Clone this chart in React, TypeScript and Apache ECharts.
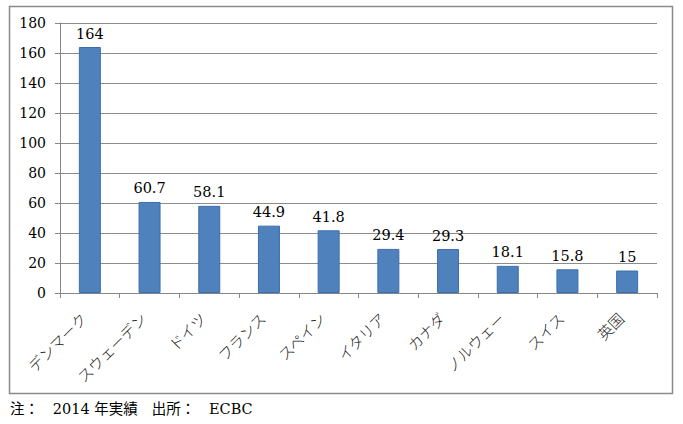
import React, { useEffect, useRef } from "react";
import * as echarts from "echarts";

const categories = ["デンマーク", "スウェーデン", "ドイツ", "フランス", "スペイン", "イタリア", "カナダ", "ノルウェー", "スイス", "英国"];
const values = [164, 60.7, 58.1, 44.9, 41.8, 29.4, 29.3, 18.1, 15.8, 15];
const footnote = "注：   2014 年実績   出所：   ECBC";

const FONT = "DejaVu Serif";

export default function App() {
  const ref = useRef<HTMLDivElement>(null);
  useEffect(() => {
    if (!ref.current) return;
    const chart = echarts.init(ref.current, null, { renderer: "svg" });
    chart.setOption({
      animation: false,
      backgroundColor: "#ffffff",
      textStyle: { fontFamily: FONT },
      grid: { left: 60, right: 26, top: 23, bottom: 131 },
      xAxis: {
        type: "category",
        data: categories,
        axisLine: { show: true, lineStyle: { color: "#868686", width: 1 } },
        axisTick: { show: true, alignWithLabel: false, length: 5, lineStyle: { color: "#868686" } },
        axisLabel: {
          rotate: 45,
          interval: 0,
          margin: 16,
          padding: [0, 9, 0, 0],
          color: "#222",
          fontSize: 15,
          fontFamily: "Noto Sans CJK JP",
          fontWeight: 300,
        },
      },
      yAxis: {
        type: "value",
        min: 0,
        max: 180,
        interval: 20,
        axisLine: { show: true, lineStyle: { color: "#868686", width: 1 } },
        axisTick: { show: true, length: 5, lineStyle: { color: "#868686" } },
        axisLabel: { color: "#000", fontSize: 14, fontFamily: FONT, margin: 14 },
        splitLine: { show: true, lineStyle: { color: "#8c8c8c", width: 1 } },
      },
      series: [
        {
          type: "bar",
          data: values,
          barWidth: 22,
          itemStyle: { color: "#4F81BD", borderColor: "#3C6EAA", borderWidth: 1 },
          label: {
            show: true,
            position: "top",
            distance: 6,
            color: "#000",
            fontSize: 14.5,
            fontFamily: FONT,
          },
        },
      ],
      graphic: [
        {
          type: "rect",
          shape: { x: 9.5, y: 6.5, width: 663, height: 387 },
          style: { fill: "none", stroke: "#8a8a8a", lineWidth: 1.5 },
          silent: true,
        },
        {
          type: "text",
          left: 10,
          top: 402,
          style: { text: footnote, fontSize: 14.5, fill: "#000", fontFamily: "DejaVu Serif, Noto Sans CJK JP" },
        },
      ],
    });
    return () => chart.dispose();
  }, []);
  return (
    <div
      ref={ref}
      style={{ position: "fixed", left: 0, top: 0, width: 683, height: 424, background: "#fff" }}
    />
  );
}
